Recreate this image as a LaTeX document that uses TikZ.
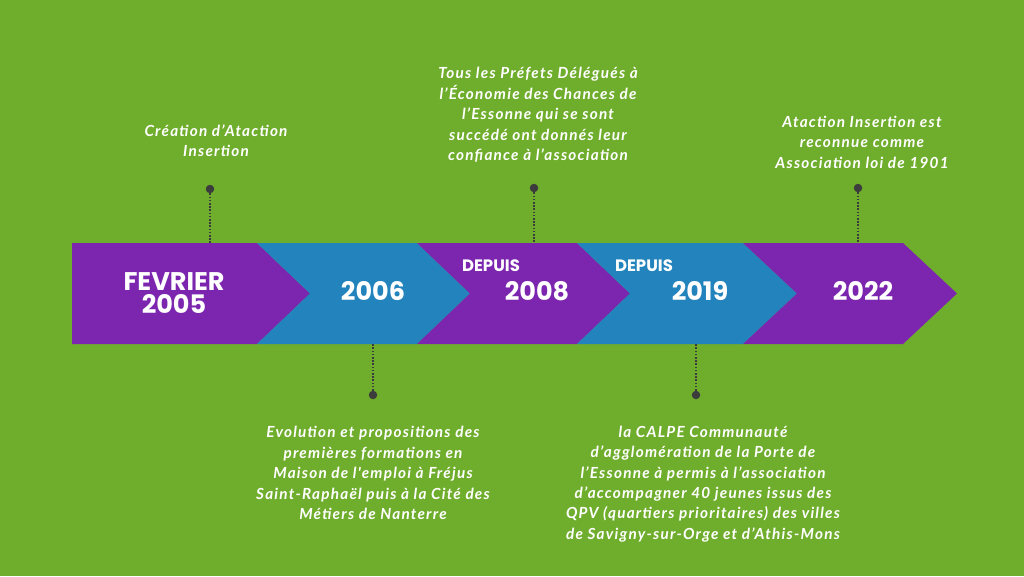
\documentclass[tikz,border=0pt]{standalone}
\usepackage{fontspec}
\setmainfont{Lato}
\newfontfamily\descfont{Lato}[LetterSpace=8]
\newfontfamily\pop{Poppins}
\definecolor{bggreen}{RGB}{111,173,44}
\definecolor{tlpurple}{RGB}{124,38,176}
\definecolor{tlblue}{RGB}{35,131,188}
\definecolor{dotgray}{RGB}{60,60,60}
\begin{document}
\begin{tikzpicture}[x=1pt,y=-1pt,
  year/.style={text=white,font=\pop\bfseries\fontsize{25.5}{23}\selectfont,inner sep=0pt,align=center},
  since/.style={text=white,font=\pop\bfseries\fontsize{16.5}{18}\selectfont,inner sep=0pt},
  desc/.style={text=white,font=\descfont\bfseries\itshape\fontsize{15.3}{20.4}\selectfont,inner sep=0pt,align=center},
  pin/.style={circle,fill=dotgray,inner sep=0pt,minimum size=8.5pt},
  stem/.style={dotgray,line width=1.6pt,dash pattern=on 1.6pt off 1.6pt}]
\fill[bggreen] (0,0) rectangle (1024,576);
\useasboundingbox (0,0) rectangle (1024,576);
% chevrons
\fill[tlpurple] (72,243) -- (257,243) -- (310,293.5) -- (257,344) -- (72,344) -- cycle;
\fill[tlblue] (257,243) -- (417,243) -- (470,293.5) -- (417,344) -- (257,344) -- (310,293.5) -- cycle;
\fill[tlpurple] (417,243) -- (577,243) -- (630,293.5) -- (577,344) -- (417,344) -- (470,293.5) -- cycle;
\fill[tlblue] (577,243) -- (743,243) -- (797,293.5) -- (743,344) -- (577,344) -- (630,293.5) -- cycle;
\fill[tlpurple] (743,243) -- (903,243) -- (957,293.5) -- (903,344) -- (743,344) -- (797,293.5) -- cycle;
% year labels
\node[year] (y2005) at (174,293.5) {FEVRIER\\2005};
\node[year] (y2006) at (373,291) {2006};
\node[since] (dep1) at (491,266) {DEPUIS};
\node[year] (y2008) at (537,291) {2008};
\node[since] (dep2) at (644,266) {DEPUIS};
\node[year] (y2019) at (700,291) {2019};
\node[year] (y2022) at (863,291) {2022};
% anchor points on band
\coordinate (b1) at (210,243);
\coordinate (b2) at (534,243);
\coordinate (b3) at (858,243);
\coordinate (b4) at (373,344);
\coordinate (b5) at (696,344);
% pins
\node[pin] (p1) at (210,189) {};
\node[pin] (p2) at (534,188) {};
\node[pin] (p3) at (858,188) {};
\node[pin] (p4) at (373,395) {};
\node[pin] (p5) at (696,395) {};
\draw[stem] (p1) -- (b1);
\draw[stem] (p2) -- (b2);
\draw[stem] (p3) -- (b3);
\draw[stem] (p4) -- (b4);
\draw[stem] (p5) -- (b5);
% descriptions
\node[desc] (d1) at (216,141) {Création d’Ataction\\Insertion};
\node[desc] (d2) at (538,115) {Tous les Préfets Délégués à\\l’Économie des Chances de\\l’Essonne qui se sont\\succédé ont donnés leur\\confiance à l’association};
\node[desc] (d3) at (862,142) {Ataction Insertion est\\reconnue comme\\Association loi de 1901};
\node[desc] (d4) at (373,473) {Evolution et propositions des\\premières formations en\\Maison de l'emploi à Fréjus\\Saint-Raphaël puis à la Cité des\\Métiers de Nanterre};
\node[desc] (d5) at (703,484) {la CALPE Communauté\\d’agglomération de la Porte de\\l’Essonne à permis à l’association\\d’accompagner 40 jeunes issus des\\QPV (quartiers prioritaires) des villes\\de Savigny-sur-Orge et d’Athis-Mons};
\end{tikzpicture}
\end{document}
